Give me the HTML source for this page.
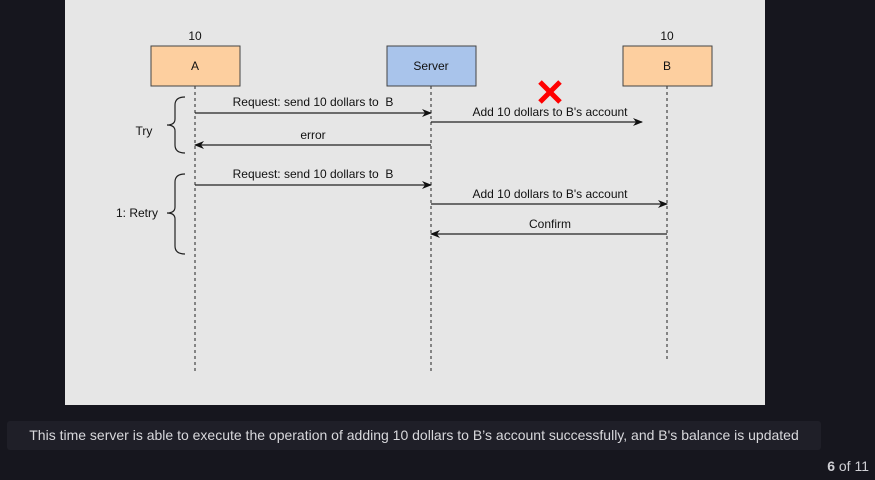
<!DOCTYPE html>
<html><head><style>
html,body{margin:0;padding:0;width:875px;height:480px;background:#16161e;overflow:hidden}
.cap{position:absolute;left:7px;top:421px;width:814px;height:29px;background:#1f1f28;border-radius:3px;color:#d8d8dc;font:14px "Liberation Sans Narrow","Liberation Sans",sans-serif;line-height:29px;text-align:center}
.pg{position:absolute;right:6px;top:458px;color:#cfcfd4;font:14px "Liberation Sans",sans-serif}
</style></head><body>
<svg width="875" height="480" style="position:absolute;left:0;top:0" font-family="Liberation Sans, sans-serif" font-size="12">
<defs><marker id="ar" markerWidth="10" markerHeight="8" refX="9" refY="4" orient="auto" markerUnits="userSpaceOnUse"><path d="M0,0 L10,4 L0,8 L3,4 Z" fill="#111"/></marker></defs>
<rect x="65" y="0" width="700" height="405" fill="#e6e6e6"/>
<g stroke="#222" stroke-dasharray="3,3" stroke-width="1">
<line x1="195" y1="86" x2="195" y2="372"/>
<line x1="431" y1="86" x2="431" y2="372"/>
<line x1="667" y1="86" x2="667" y2="362"/>
</g>
<rect x="151" y="46" width="89" height="40" fill="#fdcf9f" stroke="#444"/>
<rect x="387" y="46" width="89" height="40" fill="#a9c4eb" stroke="#444"/>
<rect x="623" y="46" width="89" height="40" fill="#fdcf9f" stroke="#444"/>
<g fill="#111" text-anchor="middle">
<text x="195" y="40">10</text><text x="667" y="40">10</text>
<text x="195" y="70">A</text><text x="431" y="70">Server</text><text x="667" y="70">B</text>
<text x="313" y="106">Request: send 10 dollars to&#160; B</text>
<text x="550" y="116">Add 10 dollars to B's account</text>
<text x="313" y="139">error</text>
<text x="313" y="178">Request: send 10 dollars to&#160; B</text>
<text x="550" y="198">Add 10 dollars to B's account</text>
<text x="550" y="228">Confirm</text>
<text x="144" y="135">Try</text>
<text x="137" y="217">1: Retry</text>
</g>
<g stroke="#222" stroke-width="1.2" fill="none">
<line x1="195" y1="113" x2="431" y2="113" marker-end="url(#ar)"/>
<line x1="431" y1="122" x2="642" y2="122" marker-end="url(#ar)"/>
<line x1="431" y1="145" x2="195" y2="145" marker-end="url(#ar)"/>
<line x1="195" y1="185" x2="431" y2="185" marker-end="url(#ar)"/>
<line x1="431" y1="204" x2="667" y2="204" marker-end="url(#ar)"/>
<line x1="667" y1="234" x2="431" y2="234" marker-end="url(#ar)"/>
<path d="M185,97 Q175,97 175,105 L175,119 Q175,125 167,125 Q175,125 175,131 L175,145 Q175,153 185,153"/>
<path d="M185,174 Q175,174 175,182 L175,207 Q175,213 167,213 Q175,213 175,219 L175,246 Q175,254 185,254"/>
</g>
<g stroke="#f00" stroke-width="5"><line x1="540" y1="82" x2="560" y2="102"/><line x1="560" y1="82" x2="540" y2="102"/></g>
</svg>
<div class="cap">This time server is able to execute the operation of adding 10 dollars to B’s account successfully, and B's balance is updated</div>
<div class="pg"><b>6</b> of 11</div>
</body></html>
